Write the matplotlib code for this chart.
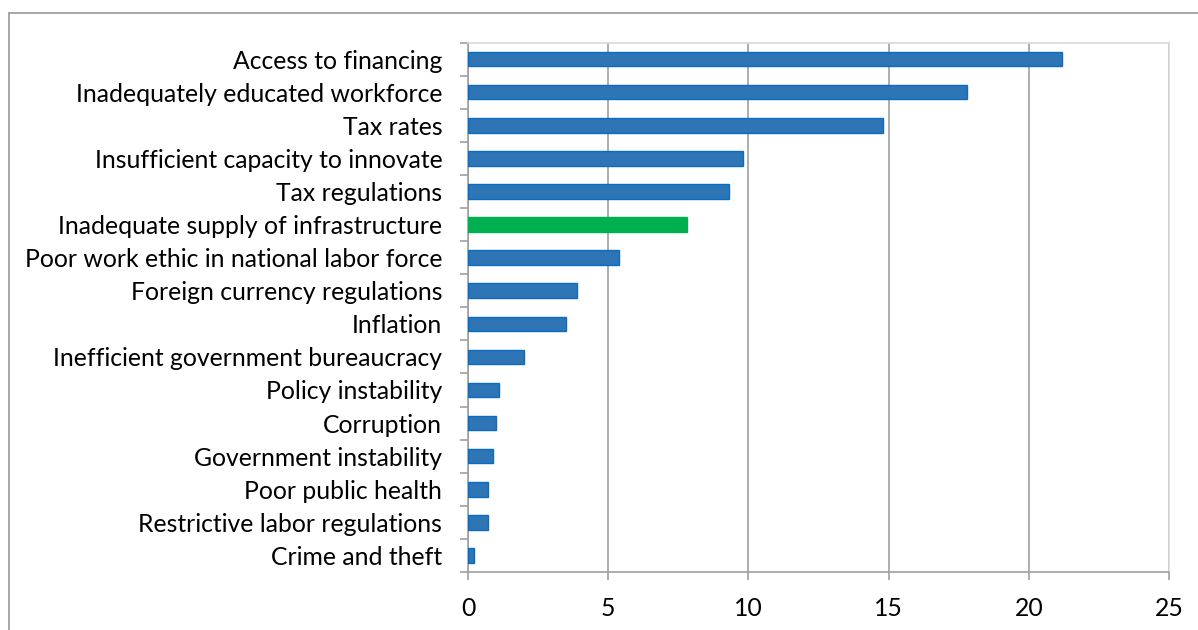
import matplotlib.pyplot as plt
from matplotlib.patches import Rectangle

plt.rcParams['font.family'] = ['Lato', 'DejaVu Sans']

# obstacles, listed top to bottom
factors = ['Access to financing', 'Inadequately educated workforce', 'Tax rates',
           'Insufficient capacity to innovate', 'Tax regulations',
           'Inadequate supply of infrastructure', 'Poor work ethic in national labor force',
           'Foreign currency regulations', 'Inflation', 'Inefficient government bureaucracy',
           'Policy instability', 'Corruption', 'Government instability',
           'Poor public health', 'Restrictive labor regulations', 'Crime and theft']
scores = [21.2, 17.8, 14.8, 9.8, 9.3, 7.8, 5.4, 3.9, 3.5, 2.0, 1.1, 1.0, 0.9, 0.7, 0.7, 0.2]
highlight = 'Inadequate supply of infrastructure'
xticks = [0, 5, 10, 15, 20, 25]

blue, blue_edge = '#2E75B6', '#0A6CC4'
green = '#00B050'

fig = plt.figure(figsize=(11.98, 6.30), dpi=100)
ax = fig.add_axes([468 / 1198, 1 - 572 / 630, (1169 - 468) / 1198, (572 - 42.5) / 630])

# outer frame (only top and left sides show)
fig.patches.append(Rectangle((8.5 / 1198, -0.1), 1.2, 1 - 13 / 630 + 0.1,
                             transform=fig.transFigure, fill=False,
                             edgecolor='#a0a0a0', linewidth=1.3))

ypos = list(range(len(factors)))
colors = [green if f == highlight else blue for f in factors]
edges = [green if f == highlight else blue_edge for f in factors]
ax.barh(ypos, scores, height=0.44, color=colors, edgecolor=edges, linewidth=1.0, zorder=3)

ax.set_ylim(len(factors) - 0.5, -0.5)
ax.set_xlim(0, 25)
ax.set_xticks(xticks)
ax.set_xticklabels([str(t) for t in xticks], fontsize=17.8)
ax.set_yticks(ypos)
ax.set_yticklabels(factors, fontsize=17.8)

# category boundary ticks on the y axis
ax.set_yticks([i - 0.5 for i in range(len(factors) + 1)], minor=True)
ax.tick_params(axis='y', which='major', length=0, pad=18.5, labelcolor='#000000')
ax.tick_params(axis='y', which='minor', length=6, width=1.2, color='#a0a0a0')
ax.tick_params(axis='x', length=6, width=1.2, color='#a0a0a0', pad=12)

ax.grid(axis='x', color='#a0a0a0', linewidth=1.2, zorder=0)
ax.set_axisbelow(True)
for side in ['left', 'bottom']:
    ax.spines[side].set_color('#a0a0a0')
    ax.spines[side].set_linewidth(1.2)
for side in ['top', 'right']:
    ax.spines[side].set_color('#d9d9d9')
    ax.spines[side].set_linewidth(1.2)

fig.savefig('out.png', dpi=100)
